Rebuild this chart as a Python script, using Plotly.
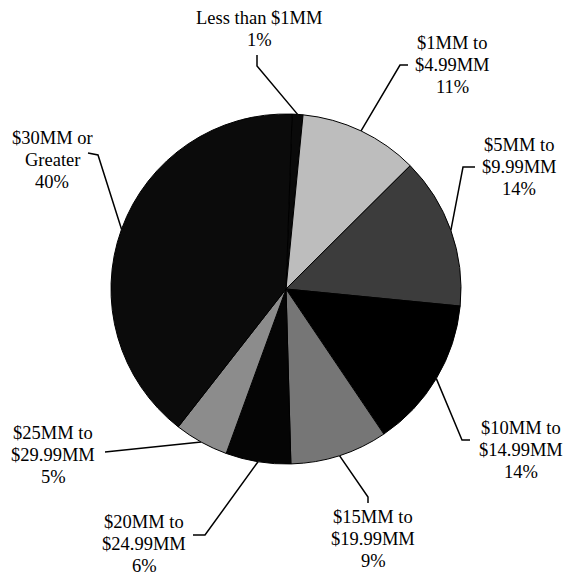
import math
import plotly.graph_objects as go

# ---- data ----
categories = ["Less than $1MM", "$1MM to $4.99MM", "$5MM to $9.99MM",
              "$10MM to $14.99MM", "$15MM to $19.99MM", "$20MM to $24.99MM",
              "$25MM to $29.99MM", "$30MM or Greater"]
values = [1, 11, 14, 14, 9, 6, 5, 40]
label_lines = [["Less than $1MM", "1%"],
               ["$1MM to", "$4.99MM", "11%"],
               ["$5MM to", "$9.99MM", "14%"],
               ["$10MM to", "$14.99MM", "14%"],
               ["$15MM to", "$19.99MM", "9%"],
               ["$20MM to", "$24.99MM", "6%"],
               ["$25MM to", "$29.99MM", "5%"],
               ["$30MM or", "Greater", "40%"]]

# ---- styling / layout ----
W, H = 563, 575
colors = ["#0a0a0a", "#bdbdbd", "#3c3c3c", "#000000",
          "#767676", "#050505", "#8c8c8c", "#0b0b0b"]
CX, CY, R = 286, 289, 175
ROT = 2.0
FONT = "Liberation Serif, Times New Roman, serif"
FS = 18.5
LINE_H = 22
# label block: center x, y of first line, elbow points of leader (pixel space)
label_pos = [(259, 18), (452, 43), (519, 145), (521, 428),
             (373, 517), (144, 522), (53, 433), (52, 138)]
elbows = [[(257, 66), (257, 55)],
          [(400, 65), (408, 65)],
          [(463, 167), (475, 167)],
          [(462, 440), (470, 440)],
          [(368, 497), (368, 503)],
          [(205, 535), (193, 535)],
          [(105, 452)],
          [(98, 155), (88, 153)]]

fig = go.Figure()

fig.add_trace(go.Pie(
    labels=categories, values=values, sort=False, direction="clockwise",
    rotation=ROT, textinfo="none", hoverinfo="skip", showlegend=False,
    marker=dict(colors=colors, line=dict(color="#000000", width=1)),
    domain=dict(x=[(CX - R) / W, (CX + R) / W],
                y=[(H - CY - R) / H, (H - CY + R) / H]),
))

# leader lines: anchored on each slice's arc midpoint
total = sum(values)
cum = 0
annotations = []
for i, v in enumerate(values):
    mid = math.radians(ROT + 360 * (cum + v / 2) / total)
    cum += v
    ax = CX + R * math.sin(mid)
    ay = CY - R * math.cos(mid)
    xs = [ax] + [p[0] for p in elbows[i]]
    ys = [ay] + [p[1] for p in elbows[i]]
    fig.add_trace(go.Scatter(x=xs, y=ys, mode="lines", hoverinfo="skip",
                             showlegend=False,
                             line=dict(color="#000000", width=1.5)))
    lx, ly = label_pos[i]
    for j, t in enumerate(label_lines[i]):
        annotations.append(dict(x=lx, y=ly + j * LINE_H, xref="x", yref="y",
                                text=t, showarrow=False, xanchor="center",
                                yanchor="middle",
                                font=dict(family=FONT, size=FS, color="#000000")))

fig.update_layout(
    width=W, height=H, margin=dict(l=0, r=0, t=0, b=0),
    paper_bgcolor="#ffffff", plot_bgcolor="rgba(0,0,0,0)",
    xaxis=dict(range=[0, W], visible=False, domain=[0, 1], fixedrange=True),
    yaxis=dict(range=[H, 0], visible=False, domain=[0, 1], fixedrange=True),
    annotations=annotations,
)

fig.write_html("out.html")
